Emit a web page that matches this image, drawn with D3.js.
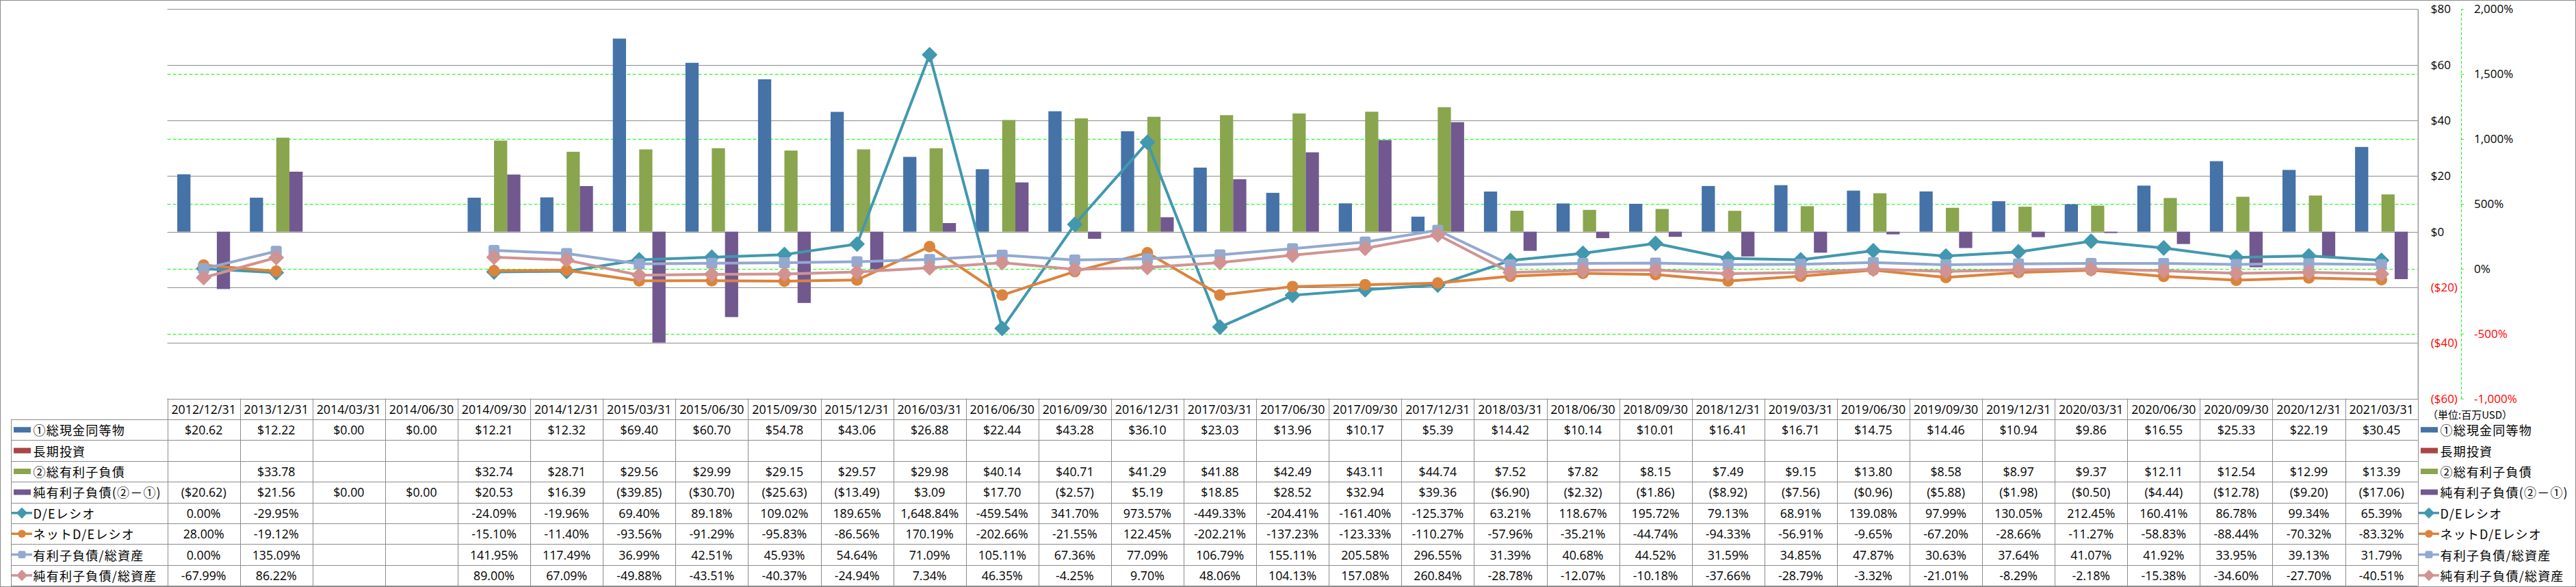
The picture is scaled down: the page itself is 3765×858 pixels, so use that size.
<!DOCTYPE html>
<html><head><meta charset="utf-8">
<script src="https://cdn.jsdelivr.net/npm/d3@7"></script>
<style>body{margin:0;background:#fff} svg{display:block}</style>
</head><body>
<svg id="chart" width="3765" height="858"></svg>
<script>
// ---------- DATA ----------
const categories = ["2012/12/31","2013/12/31","2014/03/31","2014/06/30","2014/09/30","2014/12/31","2015/03/31","2015/06/30","2015/09/30","2015/12/31","2016/03/31","2016/06/30","2016/09/30","2016/12/31","2017/03/31","2017/06/30","2017/09/30","2017/12/31","2018/03/31","2018/06/30","2018/09/30","2018/12/31","2019/03/31","2019/06/30","2019/09/30","2019/12/31","2020/03/31","2020/06/30","2020/09/30","2020/12/31","2021/03/31"];
const seriesNames = ["①総現金同等物","長期投資","②総有利子負債","純有利子負債(②－①)","D/Eレシオ","ネットD/Eレシオ","有利子負債/総資産","純有利子負債/総資産"];
const cash = [20.62,12.22,0.00,0.00,12.21,12.32,69.40,60.70,54.78,43.06,26.88,22.44,43.28,36.10,23.03,13.96,10.17,5.39,14.42,10.14,10.01,16.41,16.71,14.75,14.46,10.94,9.86,16.55,25.33,22.19,30.45];
const longInvest = [null,null,null,null,null,null,null,null,null,null,null,null,null,null,null,null,null,null,null,null,null,null,null,null,null,null,null,null,null,null,null];
const debt = [null,33.78,null,null,32.74,28.71,29.56,29.99,29.15,29.57,29.98,40.14,40.71,41.29,41.88,42.49,43.11,44.74,7.52,7.82,8.15,7.49,9.15,13.80,8.58,8.97,9.37,12.11,12.54,12.99,13.39];
const netDebt = [-20.62,21.56,0.00,0.00,20.53,16.39,-39.85,-30.70,-25.63,-13.49,3.09,17.70,-2.57,5.19,18.85,28.52,32.94,39.36,-6.90,-2.32,-1.86,-8.92,-7.56,-0.96,-5.88,-1.98,-0.50,-4.44,-12.78,-9.20,-17.06];
const deRatio = [0.00,-29.95,null,null,-24.09,-19.96,69.40,89.18,109.02,189.65,1648.84,-459.54,341.70,973.57,-449.33,-204.41,-161.40,-125.37,63.21,118.67,195.72,79.13,68.91,139.08,97.99,130.05,212.45,160.41,86.78,99.34,65.39];
const netDeRatio = [28.00,-19.12,null,null,-15.10,-11.40,-93.56,-91.29,-95.83,-86.56,170.19,-202.66,-21.55,122.45,-202.21,-137.23,-123.33,-110.27,-57.96,-35.21,-44.74,-94.33,-56.91,-9.65,-67.20,-28.66,-11.27,-58.83,-88.44,-70.32,-83.32];
const debtToAssets = [0.00,135.09,null,null,141.95,117.49,36.99,42.51,45.93,54.64,71.09,105.11,67.36,77.09,106.79,155.11,205.58,296.55,31.39,40.68,44.52,31.59,34.85,47.87,30.63,37.64,41.07,41.92,33.95,39.13,31.79];
const netDebtToAssets = [-67.99,86.22,null,null,89.00,67.09,-49.88,-43.51,-40.37,-24.94,7.34,46.35,-4.25,9.70,48.06,104.13,157.08,260.84,-28.78,-12.07,-10.18,-37.66,-28.79,-3.32,-21.01,-8.29,-2.18,-15.38,-34.60,-27.70,-40.51];
const dollarTicks = [80,60,40,20,0,-20,-40,-60];
const pctTicks = [2000,1500,1000,500,0,-500,-1000];
const pctGridTicks = [1500,1000,500,0,-500];
const unitLabel = "（単位:百万USD）";

// ---------- SETUP ----------
const svg = d3.select("#chart");
const L = {left:244.6, right:3533.7, top:13.3, bottom:582.6, rowH:30.4, legX:16, axis2X:3597, legRX:3538};
const NUMFONT = "'Open Sans', 'Liberation Sans', sans-serif";
const JPFONT = "'Noto Sans CJK JP', sans-serif";
const GRID = "#8c8c8c";

const loc = d3.formatLocale({decimal:".", thousands:",", grouping:[3], currency:["$",""], minus:"-"});
const f2 = loc.format(",.2f");
const f0 = loc.format(",");
const fmtDollar = v => v == null ? "" : (v < 0 ? "($" + f2(-v) + ")" : "$" + f2(v));
const fmtPct = v => v == null ? "" : f2(v) + "%";
const tickDollar = t => t < 0 ? "($" + (-t) + ")" : "$" + t;
const tickPct = t => f0(t) + "%";

const x = d3.scaleBand().domain(categories).range([L.left, L.right]);
const barKeys = ["cash","lti","debt","net"];
const xb = d3.scaleBand().domain(barKeys).range([14.5, x.bandwidth() - 14.5]);
const yL = d3.scaleLinear().domain([-60, 80]).range([L.bottom, L.top]);
const yR = d3.scaleLinear().domain([-1000, 2000]).range([L.bottom, L.top]);

const barSeries = [
  {key:"cash", name:seriesNames[0], values:cash, color:"#4572A7"},
  {key:"lti",  name:seriesNames[1], values:longInvest, color:"#AA4643"},
  {key:"debt", name:seriesNames[2], values:debt, color:"#89A54E"},
  {key:"net",  name:seriesNames[3], values:netDebt, color:"#71588F"}
];
const lineSeries = [
  {name:seriesNames[4], values:deRatio, color:"#4198AF", sym:"diamond"},
  {name:seriesNames[5], values:netDeRatio, color:"#DB843D", sym:"circle"},
  {name:seriesNames[6], values:debtToAssets, color:"#93A9CF", sym:"square"},
  {name:seriesNames[7], values:netDebtToAssets, color:"#D19392", sym:"diamond"}
];

// outer border
svg.append("rect").attr("x",0.5).attr("y",0.5).attr("width",3764).attr("height",857)
  .attr("fill","#fff").attr("stroke",GRID);

// ---------- GRID ----------
const grid = svg.append("g");
grid.selectAll("line.g1").data(dollarTicks).join("line")
  .attr("x1",L.left).attr("x2",L.right)
  .attr("y1",d=>Math.round(yL(d))+0.5).attr("y2",d=>Math.round(yL(d))+0.5)
  .attr("stroke",GRID).attr("stroke-width",1);
grid.selectAll("line.g2").data(pctGridTicks).join("line")
  .attr("x1",L.left).attr("x2",L.right)
  .attr("y1",d=>Math.round(yR(d))+0.5).attr("y2",d=>Math.round(yR(d))+0.5)
  .attr("stroke","#00FF00").attr("stroke-width",1).attr("stroke-dasharray","5,3");

// ---------- BARS ----------
const barG = svg.append("g");
barSeries.forEach(s => {
  barG.selectAll(null).data(categories.map((c,i)=>({c, v:s.values[i]})).filter(d=>d.v!=null && d.v!==0))
    .join("rect")
    .attr("x", d => x(d.c) + xb(s.key))
    .attr("width", xb.bandwidth())
    .attr("y", d => Math.min(yL(d.v), yL(0)))
    .attr("height", d => Math.abs(yL(d.v) - yL(0)))
    .attr("fill", s.color);
});

// ---------- LINES ----------
function marker(g, sym, cx, cy, scale, color) {
  if (sym === "diamond") {
    const D = 21*scale;
    g.append("path").attr("d", d3.symbol().type(d3.symbolSquare).size(D*D/2)())
      .attr("transform",`translate(${cx},${cy}) rotate(45)`).attr("fill",color)
      .attr("stroke",color).attr("stroke-width",1.5).attr("stroke-linejoin","round");
  } else if (sym === "circle") {
    g.append("circle").attr("cx",cx).attr("cy",cy).attr("r",8.5*scale).attr("fill",color);
  } else {
    const s = 16*scale;
    g.append("rect").attr("x",cx-s/2).attr("y",cy-s/2).attr("width",s).attr("height",s)
      .attr("rx",3*scale).attr("fill",color);
  }
}
const lineG = svg.append("g");
lineSeries.forEach(s => {
  const pts = categories.map((c,i)=>({c, v:s.values[i]}));
  const gen = d3.line().defined(d=>d.v!=null).x(d=>x(d.c)+x.bandwidth()/2).y(d=>yR(d.v));
  const g = lineG.append("g");
  g.append("path").attr("d", gen(pts)).attr("fill","none").attr("stroke",s.color)
    .attr("stroke-width",4).attr("stroke-linejoin","round").attr("stroke-linecap","round");
  pts.filter(d=>d.v!=null).forEach(d => marker(g, s.sym, x(d.c)+x.bandwidth()/2, yR(d.v), 1, s.color));
});

// ---------- AXES ----------
const axL = svg.append("g").attr("transform",`translate(${L.right},0)`)
  .call(d3.axisRight(yL).tickValues(dollarTicks).tickSize(0).tickSizeOuter(0).tickPadding(19).tickFormat(tickDollar));
axL.select(".domain").attr("stroke",GRID);
axL.selectAll("text").attr("font-family",NUMFONT).attr("font-size",17)
  .attr("fill",d=>d<0?"#FF0000":"#000");

const axR = svg.append("g").attr("transform",`translate(${L.axis2X},0)`)
  .call(d3.axisRight(yR).tickValues(pctTicks).tickSize(4).tickSizeOuter(0).tickPadding(15).tickFormat(tickPct));
axR.select(".domain").attr("stroke","#00FF00").attr("stroke-dasharray","4,3");
axR.selectAll(".tick line").attr("stroke","#00FF00");
axR.selectAll("text").attr("font-family",NUMFONT).attr("font-size",17)
  .attr("fill",d=>d<0?"#FF0000":"#000");

svg.append("text").attr("x",3548).attr("y",605).attr("dominant-baseline","central")
  .attr("font-family",JPFONT).attr("font-size",15).attr("fill","#000").text(unitLabel);

// ---------- DATA TABLE ----------
const tbl = svg.append("g");
const nRows = 9;
const rowY = i => L.bottom + i*L.rowH;
const tBottom = rowY(nRows);
tbl.append("line").attr("x1",L.left).attr("x2",L.right).attr("y1",Math.round(rowY(0))+0.5).attr("y2",Math.round(rowY(0))+0.5).attr("stroke",GRID);
for (let i=1;i<=nRows;i++) {
  tbl.append("line").attr("x1",L.legX).attr("x2",L.right)
    .attr("y1",Math.round(rowY(i))+0.5).attr("y2",Math.round(rowY(i))+0.5).attr("stroke",GRID);
}
tbl.append("line").attr("x1",L.legX+0.5).attr("x2",L.legX+0.5).attr("y1",rowY(1)).attr("y2",tBottom).attr("stroke",GRID);
tbl.selectAll("line.v").data(categories).join("line")
  .attr("x1",d=>Math.round(x(d))+0.5).attr("x2",d=>Math.round(x(d))+0.5)
  .attr("y1",rowY(0)).attr("y2",tBottom).attr("stroke",GRID);
tbl.append("line").attr("x1",Math.round(L.right)+0.5).attr("x2",Math.round(L.right)+0.5)
  .attr("y1",L.top).attr("y2",tBottom).attr("stroke",GRID);

tbl.selectAll("text.h").data(categories).join("text")
  .attr("x",d=>x(d)+x.bandwidth()/2).attr("y",rowY(0)+L.rowH/2)
  .attr("text-anchor","middle").attr("dominant-baseline","central")
  .attr("font-family",NUMFONT).attr("font-size",17.8).attr("fill","#000").text(d=>d);

const tableRows = [
  ...barSeries.map(s=>({vals:s.values, fmt:fmtDollar})),
  ...lineSeries.map(s=>({vals:s.values, fmt:fmtPct}))
];
tableRows.forEach((r,ri) => {
  tbl.selectAll(null).data(categories.map((c,i)=>({c, v:r.vals[i]}))).join("text")
    .attr("x",d=>x(d.c)+x.bandwidth()/2).attr("y",rowY(ri+1)+L.rowH/2)
    .attr("text-anchor","middle").attr("dominant-baseline","central")
    .attr("font-family",NUMFONT).attr("font-size",17.8).attr("fill","#000")
    .text(d=>r.fmt(d.v));
});

function legendKey(g, kx, cy, s, isBar) {
  if (isBar) {
    g.append("rect").attr("x",kx+4).attr("y",cy-4).attr("width",25).attr("height",8).attr("fill",s.color);
  } else {
    g.append("line").attr("x1",kx+1).attr("x2",kx+31).attr("y1",cy).attr("y2",cy)
      .attr("stroke",s.color).attr("stroke-width",3.5);
    marker(g, s.sym, kx+16, cy, 0.68, s.color);
  }
}
const allSeries = [...barSeries.map(s=>({...s,bar:true})), ...lineSeries.map(s=>({...s,bar:false}))];
allSeries.forEach((s,i) => {
  const cy = rowY(i+1) + L.rowH/2;
  legendKey(tbl, L.legX, cy, s, s.bar);
  tbl.append("text").attr("x",48.5).attr("y",cy).attr("dominant-baseline","central")
    .attr("font-family",JPFONT).attr("font-size",18).attr("letter-spacing","1.2px").attr("fill","#000").text(s.name);
  legendKey(tbl, L.legRX-4, cy, s, s.bar);
  tbl.append("text").attr("x",3566.5).attr("y",cy).attr("dominant-baseline","central")
    .attr("font-family",JPFONT).attr("font-size",18).attr("letter-spacing","1.2px").attr("fill","#000").text(s.name);
});
</script>
</body></html>
